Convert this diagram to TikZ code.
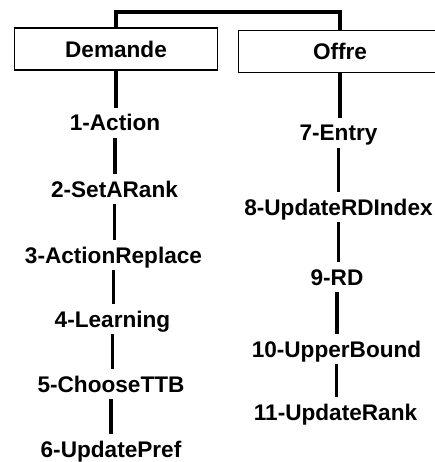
\documentclass[tikz,border=0pt]{standalone}
\usepackage{fontspec}
\setmainfont{Liberation Sans}
\begin{document}
\begin{tikzpicture}[x=1pt,y=1pt]
\tikzstyle{every node}+=[inner sep=0pt]
\tikzstyle{boite}=[draw=black,line width=1.3pt,minimum width=203pt,minimum height=42pt,font=\fontsize{22.6}{26}\selectfont\bfseries]
\tikzstyle{etape}=[anchor=base,text height=16pt,text depth=0pt,inner ysep=7pt,font=\fontsize{22.6}{26}\selectfont\bfseries]
\tikzstyle{lien}=[black,line width=3.2pt]
\useasboundingbox (0,0) rectangle (435,-462);
\clip (0,0) rectangle (435,-462);
% les deux boites et le crochet du haut
\node [boite] (demande) at (116,-49) {Demande};
\node [boite] (offre) at (340,-51.5) {Offre};
\coordinate (haut) at (229,-12);
\draw [lien] (demande.north) |- (haut) -| (offre.north);
% colonne de gauche
\node [etape] (e1) at (115,-131) {1-Action};
\node [etape] (e2) at (114.5,-197) {2-SetARank};
\node [etape] (e3) at (113.5,-263) {3-ActionReplace};
\node [etape] (e4) at (112.5,-327) {4-Learning};
\node [etape] (e5) at (111,-392) {5-ChooseTTB};
\node [etape] (e6) at (111,-457) {6-UpdatePref};
% colonne de droite
\node [etape] (e7) at (338.5,-141) {7-Entry};
\node [etape] (e8) at (338.5,-215) {8-UpdateRDIndex};
\node [etape] (e9) at (337,-285) {9-RD};
\node [etape] (e10) at (336.5,-357) {10-UpperBound};
\node [etape] (e11) at (335.5,-420) {11-UpdateRank};
\draw [lien] (demande.south) -- (demande.south |- e1.north);
\draw [lien] (e1.south) -- (e1.south |- e2.north);
\draw [lien] (e2.south) -- (e2.south |- e3.north);
\draw [lien] (e3.south) -- (e3.south |- e4.north);
\draw [lien] (e4.south) -- (e4.south |- e5.north);
\draw [lien] (e5.south) -- (e5.south |- e6.north);
\draw [lien] (offre.south) -- (offre.south |- e7.north);
\draw [lien] (e7.south) -- (e7.south |- e8.north);
\draw [lien] (e8.south) -- (e8.south |- e9.north);
\draw [lien] (e9.south) -- (e9.south |- e10.north);
\draw [lien] (e10.south) -- (e10.south |- e11.north);
\end{tikzpicture}
\end{document}
